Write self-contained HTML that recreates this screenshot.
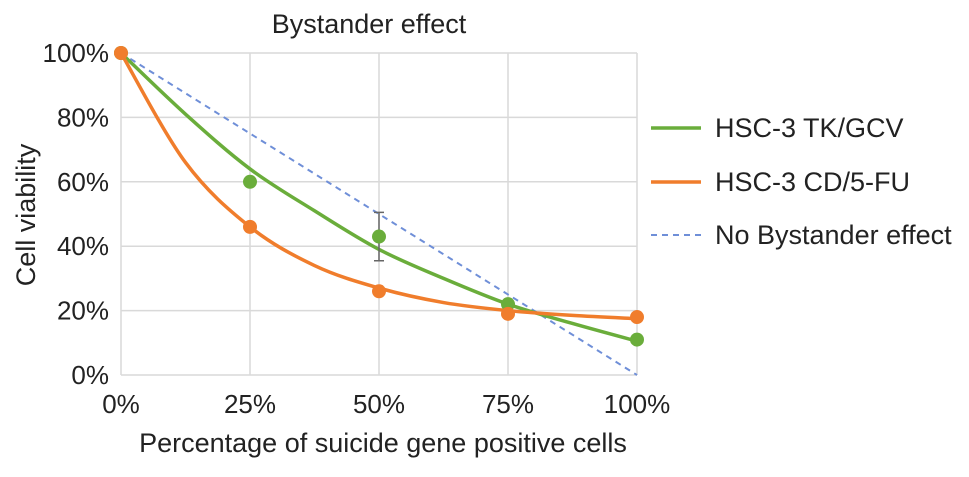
<!DOCTYPE html>
<html><head><meta charset="utf-8"><style>
body{margin:0;background:#fff;font-family:"Liberation Sans",sans-serif}
svg text{font-family:"Liberation Sans",sans-serif;fill:#222}
</style></head><body>
<svg id="c" width="969" height="472"></svg>
<script>
const categories=[0,25,50,75,100];
const tkValues=[100,60,43,22,11];
const tkErr=[0,0,7.5,0,0];
const cdValues=[100,46,26,19,18];
const trendX=[0,12.5,25,37.5,50,62.5,75,87.5,100];
const tkTrend=[100,81,64,51,39,30,22,16,10.5];
const cdTrend=[100,66,46,34,27,22.5,20,18.5,17.5];
const yTicks=[0,20,40,60,80,100];
const NS='http://www.w3.org/2000/svg';
const svg=document.getElementById('c');
const X=v=>121+v/100*516, Y=v=>375-v/100*322;
function el(t,a,p){const e=document.createElementNS(NS,t);for(const k in a)e.setAttribute(k,a[k]);(p||svg).appendChild(e);return e;}
function spline(xs,vals){let p=xs.map((c,i)=>[X(c),Y(vals[i])]);let d='M'+p[0];for(let i=0;i<p.length-1;i++){const p0=p[i-1]||p[i],p1=p[i],p2=p[i+1],p3=p[i+2]||p2;d+=` C${p1[0]+(p2[0]-p0[0])/6},${p1[1]+(p2[1]-p0[1])/6} ${p2[0]-(p3[0]-p1[0])/6},${p2[1]-(p3[1]-p1[1])/6} ${p2[0]},${p2[1]}`;}return d;}
yTicks.forEach(t=>{const g=el('line',{x1:X(0),x2:X(100),y1:Y(t),y2:Y(t),stroke:'#d9d9d9','stroke-width':1.5});

const tx=el('text',{x:109,y:Y(t)+9,'text-anchor':'end','font-size':26});tx.textContent=t+'%';
});
categories.forEach(c=>{const g=el('line',{x1:X(c),x2:X(c),y1:Y(0),y2:Y(100),stroke:'#d9d9d9','stroke-width':1.5});

const tx=el('text',{x:X(c),y:413,'text-anchor':'middle','font-size':26});tx.textContent=c+'%';
});
const nb=el('line',{x1:X(0),y1:Y(100),x2:X(100),y2:Y(0),stroke:'#6f8fd8','stroke-width':2,'stroke-dasharray':'6,5'});

const gl=el('path',{d:spline(trendX,tkTrend),fill:'none',stroke:'#6aad3b','stroke-width':3.5});

const ol=el('path',{d:spline(trendX,cdTrend),fill:'none',stroke:'#f07d2c','stroke-width':3.5});

categories.forEach((c,i)=>{if(tkErr[i]>0){const e=el('path',{d:`M${X(c)},${Y(tkValues[i]+tkErr[i])}V${Y(tkValues[i]-tkErr[i])}M${X(c)-5},${Y(tkValues[i]+tkErr[i])}h10M${X(c)-5},${Y(tkValues[i]-tkErr[i])}h10`,stroke:'#666','stroke-width':1.5,fill:'none'});
}});
categories.forEach((c,i)=>{const m=el('circle',{cx:X(c),cy:Y(tkValues[i]),r:7,fill:'#6aad3b'});
});
categories.forEach((c,i)=>{const m=el('circle',{cx:X(c),cy:Y(cdValues[i]),r:7,fill:'#f07d2c'});
});
</script>
<svg style="position:absolute;left:0;top:0" width="969" height="472">
<text x="369" y="33" text-anchor="middle" font-size="27">Bystander effect</text>
<text x="383" y="452" text-anchor="middle" font-size="27">Percentage of suicide gene positive cells</text>
<text transform="translate(35,215) rotate(-90)" text-anchor="middle" font-size="27">Cell viability</text>
<g>
<line x1="651" x2="701" y1="128" y2="128" stroke="#6aad3b" stroke-width="3.5"/>
<text x="715" y="137" font-size="27">HSC-3 TK/GCV</text>
<line x1="651" x2="701" y1="182" y2="182" stroke="#f07d2c" stroke-width="3.5"/>
<text x="715" y="191" font-size="27">HSC-3 CD/5-FU</text>
<line x1="651" x2="701" y1="235" y2="235" stroke="#6f8fd8" stroke-width="2" stroke-dasharray="6,5"/>
<text x="715" y="244" font-size="27">No Bystander effect</text>
</g></svg>
</body></html>
